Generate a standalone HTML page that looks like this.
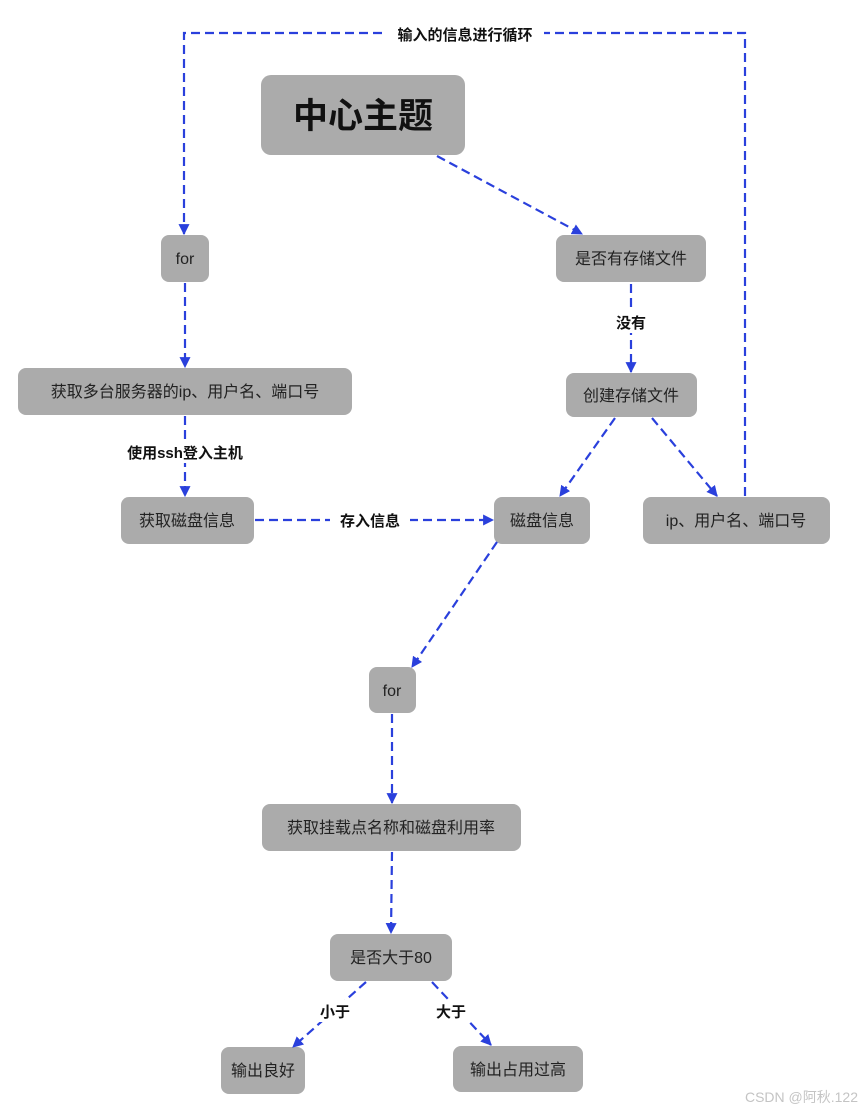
<!DOCTYPE html>
<html><head><meta charset="utf-8"><style>
html,body{margin:0;padding:0;background:#fff;width:865px;height:1111px;overflow:hidden}
svg text{font-family:"Liberation Sans","Noto Sans CJK SC",sans-serif}
</style></head><body>
<svg width="865" height="1111" viewBox="0 0 865 1111" xmlns="http://www.w3.org/2000/svg">
<defs>
<marker id="a" viewBox="0 0 10 10" refX="9" refY="5" markerWidth="5" markerHeight="5" orient="auto-start-reverse">
<path d="M0,0 L10,5 L0,10 z" fill="#2a40dc"/></marker>
</defs>
<g fill="#ababab">
<rect x="261" y="75" width="204" height="80" rx="10"/>
<rect x="161" y="235" width="48" height="47" rx="8"/>
<rect x="556" y="235" width="150" height="47" rx="8"/>
<rect x="18" y="368" width="334" height="47" rx="8"/>
<rect x="566" y="373" width="131" height="44" rx="8"/>
<rect x="121" y="497" width="133" height="47" rx="8"/>
<rect x="494" y="497" width="96" height="47" rx="8"/>
<rect x="643" y="497" width="187" height="47" rx="8"/>
<rect x="369" y="667" width="47" height="46" rx="8"/>
<rect x="262" y="804" width="259" height="47" rx="8"/>
<rect x="330" y="934" width="122" height="47" rx="8"/>
<rect x="221" y="1047" width="84" height="47" rx="8"/>
<rect x="453" y="1046" width="130" height="46" rx="8"/>
</g>
<g fill="none" stroke="#2a40dc" stroke-width="2.2" stroke-dasharray="9,5" marker-end="url(#a)">
<path d="M745,496 L745,33 L184,33 L184,234"/>
<path d="M437,156 L582,234"/>
<path d="M185,283 L185,367"/>
<path d="M185,416 L185,496"/>
<path d="M631,284 L631,372"/>
<path d="M615,418 L560,496"/>
<path d="M652,418 L717,496"/>
<path d="M255,520 L493,520"/>
<path d="M497,542 L412,667"/>
<path d="M392,714 L392,803"/>
<path d="M392,852 L391,933"/>
<path d="M366,982 L293,1047"/>
<path d="M432,982 L491,1045"/>
</g>
<g font-size="15" font-weight="bold" fill="#111" text-anchor="middle">
<rect x="386" y="24" width="158" height="20" fill="#fff"/>
<text x="465" y="40">输入的信息进行循环</text>
<rect x="118" y="441" width="134" height="22" fill="#fff"/>
<text x="185" y="458">使用ssh登入主机</text>
<rect x="612" y="311" width="38" height="22" fill="#fff"/>
<text x="631" y="328">没有</text>
<rect x="330" y="509" width="80" height="22" fill="#fff"/>
<text x="370" y="526">存入信息</text>
<rect x="314" y="1000" width="42" height="22" fill="#fff"/>
<text x="335" y="1017">小于</text>
<rect x="430" y="1000" width="42" height="22" fill="#fff"/>
<text x="451" y="1017">大于</text>
</g>
<text x="363" y="128" font-size="35" font-weight="bold" fill="#111" text-anchor="middle">中心主题</text>
<g font-size="16" fill="#222" text-anchor="middle">
<text x="185" y="264">for</text>
<text x="631" y="264">是否有存储文件</text>
<text x="185" y="397">获取多台服务器的ip、用户名、端口号</text>
<text x="631" y="401">创建存储文件</text>
<text x="187" y="526">获取磁盘信息</text>
<text x="542" y="526">磁盘信息</text>
<text x="736" y="526">ip、用户名、端口号</text>
<text x="392" y="696">for</text>
<text x="391" y="833">获取挂载点名称和磁盘利用率</text>
<text x="391" y="963">是否大于80</text>
<text x="263" y="1076">输出良好</text>
<text x="518" y="1075">输出占用过高</text>
</g>
<text x="858" y="1102" font-size="14" fill="#c4c4c4" text-anchor="end">CSDN @阿秋.122</text>
</svg>
</body></html>
